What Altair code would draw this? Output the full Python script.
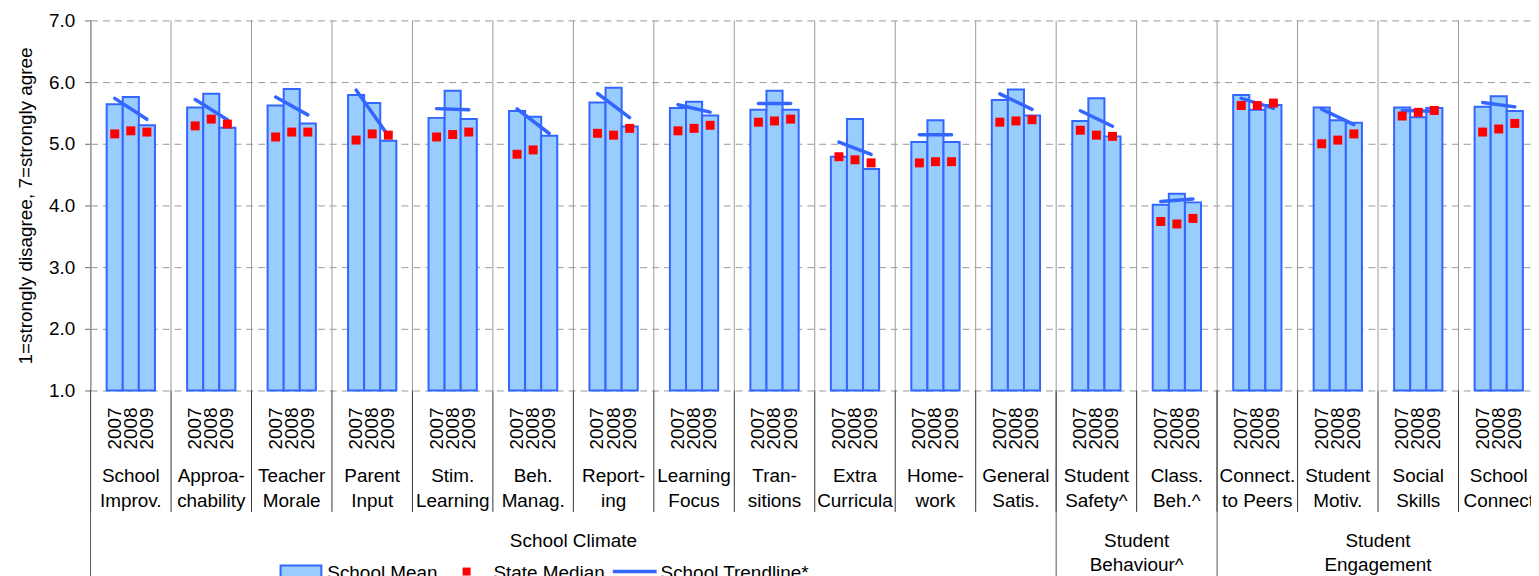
import altair as alt
import pandas as pd
import numpy as np

FONT = "Liberation Sans"

# ---------------- data ----------------
cat_line1 = ["School", "Approa-", "Teacher", "Parent", "Stim.", "Beh.", "Report-", "Learning",
             "Tran-", "Extra", "Home-", "General", "Student", "Class.", "Connect.", "Student",
             "Social", "School"]
cat_line2 = ["Improv.", "chability", "Morale", "Input", "Learning", "Manag.", "ing", "Focus",
             "sitions", "Curricula", "work", "Satis.", "Safety^", "Beh.^", "to Peers", "Motiv.",
             "Skills", "Connect"]
years = ["2007", "2008", "2009"]

mean_2007 = [5.64, 5.59, 5.62, 5.79, 5.42, 5.53, 5.67, 5.58, 5.55, 4.79, 5.03, 5.71, 5.37, 4.01, 5.79, 5.59, 5.59, 5.60]
mean_2008 = [5.76, 5.81, 5.89, 5.66, 5.86, 5.44, 5.91, 5.68, 5.86, 5.40, 5.38, 5.88, 5.74, 4.19, 5.55, 5.38, 5.43, 5.77]
mean_2009 = [5.30, 5.26, 5.33, 5.05, 5.40, 5.13, 5.28, 5.46, 5.55, 4.59, 5.03, 5.46, 5.12, 4.05, 5.63, 5.34, 5.58, 5.53]

median_2007 = [5.16, 5.29, 5.11, 5.06, 5.11, 4.83, 5.17, 5.21, 5.35, 4.79, 4.69, 5.35, 5.22, 3.74, 5.62, 5.00, 5.45, 5.19]
median_2008 = [5.21, 5.40, 5.19, 5.16, 5.15, 4.90, 5.14, 5.25, 5.37, 4.74, 4.71, 5.37, 5.14, 3.70, 5.62, 5.06, 5.51, 5.24]
median_2009 = [5.19, 5.32, 5.19, 5.14, 5.19, None, 5.25, 5.30, 5.40, 4.69, 4.71, 5.39, 5.12, 3.79, 5.66, 5.16, 5.54, 5.33]

group_names = ["School Climate", "Student\nBehaviour^", "Student\nEngagement"]
group_first_idx = [0, 12, 14]     # first category of each group
group_centre_idx = [6, 13, 16]    # category whose left edge is the group's centre

legend_labels = ["School Mean", "State Median", "School Trendline*"]

y_ticks = [1, 2, 3, 4, 5, 6, 7]

# ---------------- tables ----------------
cats = [a + " " + b for a, b in zip(cat_line1, cat_line2)]
cat_text = [a + "\n" + b for a, b in zip(cat_line1, cat_line2)]

means = [mean_2007, mean_2008, mean_2009]
medians = [median_2007, median_2008, median_2009]

bar_rows, med_rows, trend_rows = [], [], []
for i, c in enumerate(cats):
    vals = [means[k][i] for k in range(3)]
    for k, yr in enumerate(years):
        bar_rows.append({"cat": c, "year": yr, "mean": vals[k]})
        if medians[k][i] is not None:
            med_rows.append({"cat": c, "year": yr, "median": medians[k][i]})
    slope, icpt = np.polyfit([0, 1, 2], vals, 1)
    trend_rows.append({"cat": c, "year": years[0], "trend": icpt})
    trend_rows.append({"cat": c, "year": years[2], "trend": icpt + 2 * slope})

bars_df = pd.DataFrame(bar_rows)
med_df = pd.DataFrame(med_rows)
trend_df = pd.DataFrame(trend_rows)
cat_df = pd.DataFrame({"cat": cats, "text": cat_text})
grp_sep_df = pd.DataFrame({"cat": [cats[i] for i in group_first_idx]})
grp_lab_df = pd.DataFrame({"cat": [cats[i] for i in group_centre_idx], "text": group_names})

# ---------------- layout constants ----------------
W, H = 1448, 372
BAR_FILL = "#99CCFF"
BLUE = "#3366FF"

xscale = alt.Scale(domain=cats, paddingInner=0, paddingOuter=0, rangeMax=1456)
oscale = alt.Scale(domain=years, paddingInner=0, paddingOuter=1)
yscale = alt.Scale(domain=[1, 7], nice=False, zero=False)

# vertical lines inside the plot
grid_v = alt.Chart(cat_df).mark_rule(color="#999999", strokeWidth=1).encode(
    x=alt.X("cat:N", scale=xscale, bandPosition=0, axis=None),
    y=alt.value(0), y2=alt.value(H),
)
# vertical separators below the axis
sep_v = alt.Chart(cat_df).mark_rule(color="#333333", strokeWidth=1).encode(
    x=alt.X("cat:N", scale=xscale, bandPosition=0, axis=None),
    y=alt.value(H), y2=alt.value(H + 122),
)
grp_v = alt.Chart(grp_sep_df).mark_rule(color="#555555", strokeWidth=1).encode(
    x=alt.X("cat:N", scale=xscale, bandPosition=0, axis=None),
    y=alt.value(H), y2=alt.value(H + 200),
)

bars = alt.Chart(bars_df).mark_bar(fill=BAR_FILL, stroke=BLUE, strokeWidth=2).encode(
    x=alt.X("cat:N", scale=xscale,
            axis=alt.Axis(labels=False, ticks=False, title=None, grid=False,
                          domain=True, domainColor="black", domainWidth=1)),
    xOffset=alt.XOffset("year:N", scale=oscale),
    y=alt.Y("mean:Q", scale=yscale,
            axis=alt.Axis(values=y_ticks, format=".1f",
                          title="1=strongly disagree, 7=strongly agree",
                          grid=True, gridDash=[7, 5], gridColor="#999999",
                          domainColor="#888888", tickColor="#666666", tickSize=6,
                          labelPadding=10, titlePadding=13,
                          labelFontSize=19, titleFontSize=19, titleFontWeight="normal",
                          labelColor="black", titleColor="black",
                          labelFont=FONT, titleFont=FONT)),
    y2=alt.datum(1),
)

meds = alt.Chart(med_df).mark_square(color="#FF0000", size=81, opacity=1).encode(
    x=alt.X("cat:N", scale=xscale),
    xOffset=alt.XOffset("year:N", scale=oscale),
    y=alt.Y("median:Q", scale=yscale),
)

trend = alt.Chart(trend_df).mark_line(color=BLUE, strokeWidth=3.5, strokeCap="round").encode(
    x=alt.X("cat:N", scale=xscale),
    xOffset=alt.XOffset("year:N", scale=oscale),
    y=alt.Y("trend:Q", scale=yscale),
    detail="cat:N",
)

year_lab = alt.Chart(bars_df).mark_text(
    angle=270, align="right", baseline="middle", fontSize=19, font=FONT, color="black"
).encode(
    x=alt.X("cat:N", scale=xscale),
    xOffset=alt.XOffset("year:N", scale=oscale),
    y=alt.value(H + 17),
    text="year:N",
)

cat_lab = alt.Chart(cat_df).mark_text(
    align="center", baseline="alphabetic", fontSize=19, font=FONT, color="black",
    lineBreak="\n", lineHeight=25
).encode(
    x=alt.X("cat:N", scale=xscale),
    y=alt.value(H + 92),
    text="text:N",
)

grp_lab = alt.Chart(grp_lab_df).mark_text(
    align="center", baseline="alphabetic", fontSize=19, font=FONT, color="black",
    lineBreak="\n", lineHeight=24
).encode(
    x=alt.X("cat:N", scale=xscale, bandPosition=0),
    y=alt.value(H + 157),
    text="text:N",
)

# ---------------- legend (drawn) ----------------
one = pd.DataFrame({"k": [0]})
LY = H + 190
leg_rect = alt.Chart(one).mark_rect(fill=BAR_FILL, stroke=BLUE, strokeWidth=2).encode(
    x=alt.value(191), x2=alt.value(232), y=alt.value(LY - 14), y2=alt.value(LY),
)
leg_sq = alt.Chart(one).mark_square(color="#FF0000", size=64, opacity=1).encode(
    x=alt.value(378), y=alt.value(LY - 8),
)
leg_line = alt.Chart(one).mark_rule(color=BLUE, strokeWidth=3.5).encode(
    x=alt.value(525), x2=alt.value(569), y=alt.value(LY - 8),
)
leg_txts = [
    alt.Chart(pd.DataFrame({"t": [t]})).mark_text(
        align="left", baseline="alphabetic", fontSize=19, font=FONT, color="black"
    ).encode(x=alt.value(px), y=alt.value(LY), text="t:N")
    for t, px in zip(legend_labels, [238, 405, 573])
]

chart = alt.layer(
    grid_v, bars, trend, meds, sep_v, grp_v, year_lab, cat_lab, grp_lab,
    leg_rect, leg_sq, leg_line, *leg_txts,
).properties(
    width=W, height=H,
    autosize=alt.AutoSizeParams(type="none"),
    padding={"left": 83, "top": 11, "right": 0, "bottom": 185},
).configure_view(stroke=None)

chart.save("out.html", embed_options={"renderer": "svg", "actions": False})
